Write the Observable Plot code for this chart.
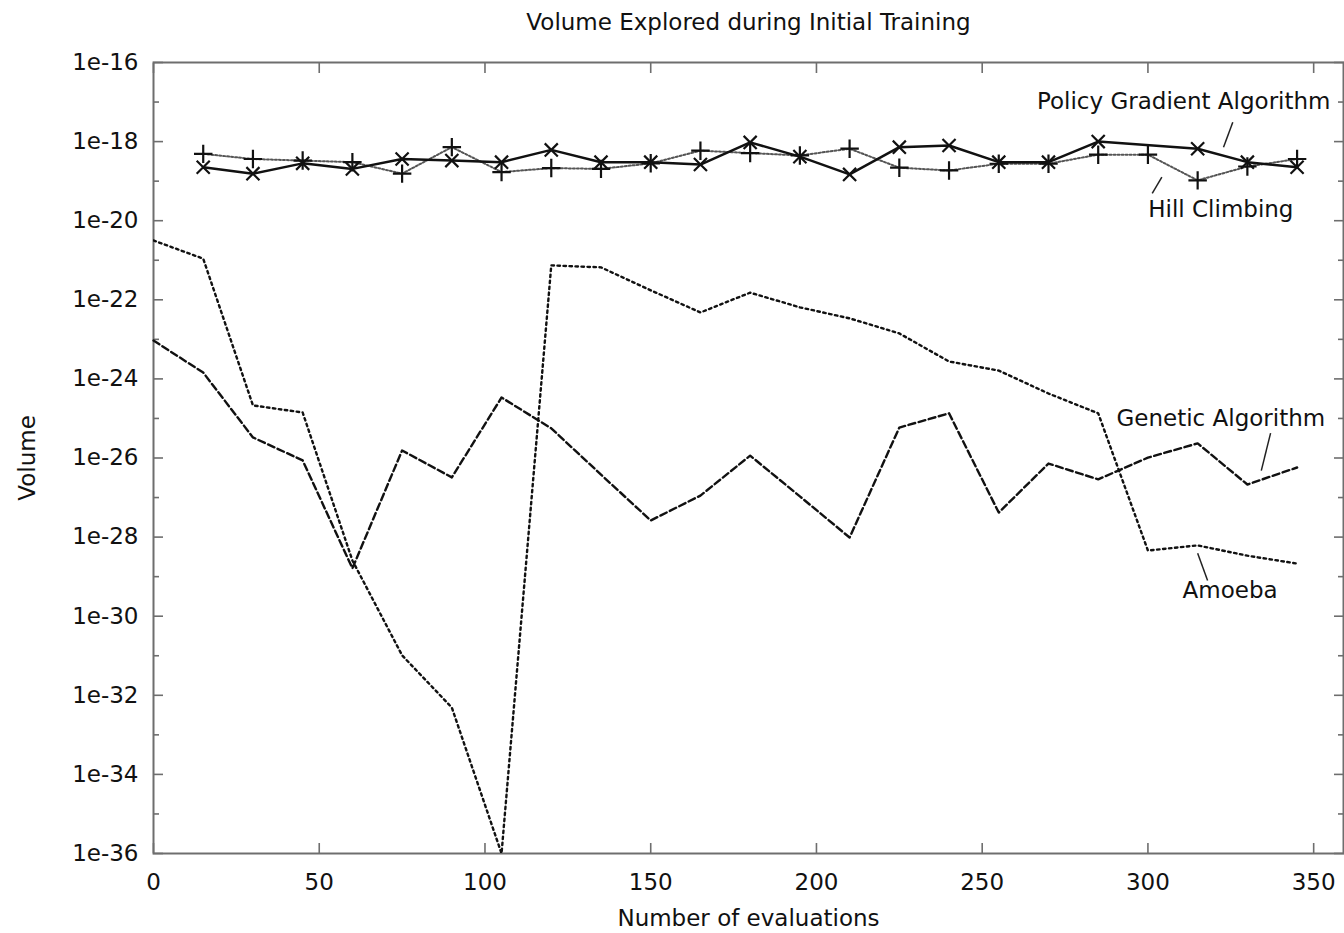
<!DOCTYPE html>
<html><head><meta charset="utf-8">
<script src="https://cdn.jsdelivr.net/npm/d3@7"></script>
<script src="https://cdn.jsdelivr.net/npm/@observablehq/plot@0.6"></script>
<style>
html,body{margin:0;padding:0;background:#fff;}
#chart svg{display:block;}
</style></head><body><div id="chart"></div>
<script>
// ---- data (y values stored as base-10 exponents) ----
const evaluations = [0,15,30,45,60,75,90,105,120,135,150,165,180,195,210,225,240,255,270,285,300,315,330,345];
const amoebaExp   = [-20.50,-20.96,-24.67,-24.85,-28.59,-30.99,-32.31,-36.0,-21.13,-21.18,-21.76,-22.32,-21.82,-22.19,-22.47,-22.85,-23.56,-23.79,-24.37,-24.87,-28.34,-28.21,-28.47,-28.67];
const geneticExp  = [-23.03,-23.84,-25.48,-26.06,-28.79,-25.81,-26.49,-24.47,-25.25,-26.42,-27.58,-26.95,-25.94,-26.97,-28.01,-25.23,-24.87,-27.38,-26.14,-26.54,-25.99,-25.63,-26.67,-26.24];
const policyX     = [15,30,45,60,75,90,105,120,135,150,165,180,195,210,225,240,255,270,285,315,330,345];
const policyExp   = [-18.65,-18.81,-18.55,-18.69,-18.44,-18.48,-18.52,-18.21,-18.52,-18.52,-18.58,-18.02,-18.38,-18.83,-18.14,-18.10,-18.52,-18.52,-18.00,-18.18,-18.52,-18.65];
const hillX       = [15,30,45,60,75,90,105,120,135,150,165,180,195,210,225,240,255,270,285,300,315,330,345];
const hillExp     = [-18.31,-18.44,-18.48,-18.52,-18.81,-18.14,-18.77,-18.67,-18.69,-18.55,-18.23,-18.29,-18.35,-18.18,-18.66,-18.73,-18.56,-18.56,-18.33,-18.33,-18.98,-18.63,-18.44];
const yMajorExp   = [-16,-18,-20,-22,-24,-26,-28,-30,-32,-34,-36];
const yMinorExp   = [-17,-19,-21,-23,-25,-27,-29,-31,-33,-35];
const xTicks      = [0,50,100,150,200,250,300,350];
const seriesNames = ["Policy Gradient Algorithm","Hill Climbing","Genetic Algorithm","Amoeba"];
// label anchors and leader lines (data units: x, exponent)
const labelX      = [310.8, 322, 322, 324.8];
const labelExp    = [-16.99, -19.72, -25.0, -29.35];
const leaderX1    = [325.6, 304.2, 337.0, 315.0];
const leaderExp1  = [-17.51, -18.90, -25.37, -28.41];
const leaderX2    = [322.8, 301.3, 334.2, 318.0];
const leaderExp2  = [-18.14, -19.31, -26.32, -29.10];

const p = e => Math.pow(10, e);
const amoeba  = evaluations.map((x,i) => ({x, y: p(amoebaExp[i])}));
const genetic = evaluations.map((x,i) => ({x, y: p(geneticExp[i])}));
const policy  = policyX.map((x,i) => ({x, y: p(policyExp[i])}));
const hill    = hillX.map((x,i) => ({x, y: p(hillExp[i])}));
const labels  = seriesNames.map((name,i) => ({name, x: labelX[i], y: p(labelExp[i]),
  x1: leaderX1[i], y1: p(leaderExp1[i]), x2: leaderX2[i], y2: p(leaderExp2[i])}));
const yMajor = yMajorExp.map(p), yMinor = yMinorExp.map(p);

const font = "'DejaVu Sans', sans-serif";
const frameColor = "#6e6e6e";
const txt = "#111";
const chart = Plot.plot({
  width: 1344, height: 933,
  marginLeft: 153, marginRight: 1, marginTop: 62, marginBottom: 80,
  style: {fontFamily: font, fontSize: "23px", background: "#fff", color: txt},
  x: {domain: [0, 359]},
  y: {type: "log", domain: [1e-36, 1e-16]},
  marks: [
    // tick labels
    Plot.axisY(yMajor, {anchor: "left", tickSize: 0, tickPadding: 15, label: null, fill: txt,
      tickFormat: d => `1e${Math.round(Math.log10(d))}`}),
    Plot.axisX(xTicks, {anchor: "bottom", tickSize: 0, tickPadding: 20, label: null, fill: txt}),
    // inward ticks
    Plot.axisY(yMajor, {anchor: "left", tickSize: -10, tickFormat: () => "", label: null, stroke: frameColor, strokeWidth: 1.6}),
    Plot.axisY(yMinor, {anchor: "left", tickSize: -6, tickFormat: () => "", label: null, stroke: frameColor, strokeWidth: 1.6}),
    Plot.axisY(yMajor, {anchor: "right", tickSize: -10, tickFormat: () => "", label: null, stroke: frameColor, strokeWidth: 1.6}),
    Plot.axisY(yMinor, {anchor: "right", tickSize: -6, tickFormat: () => "", label: null, stroke: frameColor, strokeWidth: 1.6}),
    Plot.axisX(xTicks, {anchor: "bottom", tickSize: -10, tickFormat: () => "", label: null, stroke: frameColor, strokeWidth: 1.6}),
    Plot.axisX(xTicks, {anchor: "top", tickSize: -10, tickFormat: () => "", label: null, stroke: frameColor, strokeWidth: 1.6}),
    Plot.frame({stroke: frameColor, strokeWidth: 2}),
    // series
    Plot.line(amoeba, {x: "x", y: "y", stroke: "#111", strokeWidth: 2.4, strokeDasharray: "2.5,3.5", clip: true}),
    Plot.line(genetic, {x: "x", y: "y", stroke: "#111", strokeWidth: 2.4, strokeDasharray: "7,3.5"}),
    Plot.line(hill, {x: "x", y: "y", stroke: "#555", strokeWidth: 2, strokeDasharray: "2,2"}),
    Plot.dot(hill, {x: "x", y: "y", symbol: "plus", r: 6, stroke: "#111", strokeWidth: 2.2}),
    Plot.line(policy, {x: "x", y: "y", stroke: "#111", strokeWidth: 2.5}),
    Plot.dot(policy, {x: "x", y: "y", symbol: "times", r: 6, stroke: "#111", strokeWidth: 2.2}),
    // labels and leaders
    Plot.link(labels, {x1: "x1", y1: "y1", x2: "x2", y2: "y2", stroke: "#222", strokeWidth: 1.5}),
    Plot.text(labels, {x: "x", y: "y", text: "name", fill: txt, fontSize: 23}),
    // titles
    Plot.text(["Volume Explored during Initial Training"], {frameAnchor: "top", lineAnchor: "middle", dy: -40, fontSize: 23, fill: txt}),
    Plot.text(["Number of evaluations"], {frameAnchor: "bottom", lineAnchor: "middle", dy: 65, fontSize: 23, fill: txt}),
    Plot.text(["Volume"], {frameAnchor: "left", textAnchor: "middle", lineAnchor: "middle", dx: -126, rotate: -90, fontSize: 23, fill: txt})
  ]
});
document.getElementById("chart").appendChild(chart);
</script></body></html>
